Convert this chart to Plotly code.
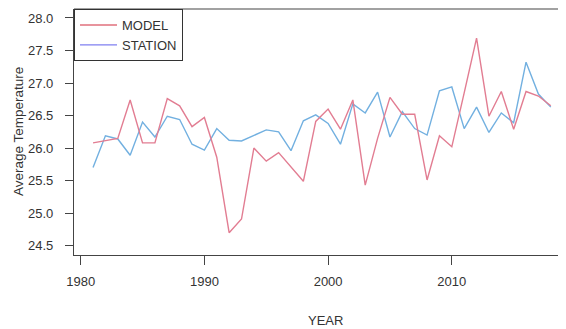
import plotly.graph_objects as go

years = list(range(1981, 2019))
model = [26.08, 26.12, 26.15, 26.74, 26.08, 26.08, 26.76, 26.65, 26.33, 26.47,
         25.86, 24.70, 24.91, 26.00, 25.80, 25.93, 25.71, 25.49, 26.41, 26.60,
         26.29, 26.74, 25.43, 26.15, 26.78, 26.52, 26.52, 25.51, 26.19, 26.02,
         26.85, 27.69, 26.49, 26.87, 26.29, 26.87, 26.80, 26.65]
station = [25.70, 26.19, 26.14, 25.89, 26.40, 26.17, 26.49, 26.44, 26.06, 25.97,
           26.30, 26.12, 26.11, 26.20, 26.28, 26.25, 25.96, 26.42, 26.51, 26.38,
           26.06, 26.68, 26.54, 26.86, 26.17, 26.56, 26.30, 26.20, 26.88, 26.94,
           26.30, 26.63, 26.24, 26.54, 26.39, 27.32, 26.83, 26.63]
x_ticks = [1980, 1990, 2000, 2010]
y_ticks = [24.5, 25.0, 25.5, 26.0, 26.5, 27.0, 27.5, 28.0]

RED = "#e27d92"
BLUE = "#72b0e0"
FONT = "Liberation Sans, Arial, sans-serif"
TXT = "#333333"

fig = go.Figure()
fig.add_trace(go.Scatter(x=years, y=station, mode="lines", name="STATION",
                         line=dict(color=BLUE, width=1.4), showlegend=False))
fig.add_trace(go.Scatter(x=years, y=model, mode="lines", name="MODEL",
                         line=dict(color=RED, width=1.4), showlegend=False))
# legend entries
fig.add_trace(go.Scatter(x=[None], y=[None], mode="lines", name="MODEL",
                         line=dict(color="#e0707c", width=1.4)))
fig.add_trace(go.Scatter(x=[None], y=[None], mode="lines", name="STATION",
                         line=dict(color="#7f7ff0", width=1.4)))

fig.update_layout(
    width=558, height=321,
    margin=dict(l=66, r=0, t=1, b=74, autoexpand=False),
    plot_bgcolor="white", paper_bgcolor="white",
    font=dict(family=FONT, size=13, color=TXT),
    showlegend=True,
    legend=dict(x=0, y=1, xanchor="left", yanchor="top",
                bordercolor="#333333", borderwidth=1, bgcolor="white",
                font=dict(size=13, color=TXT), itemwidth=37,
                tracegroupgap=0, traceorder="normal"),
    xaxis=dict(range=[1979.46, 2019.23], tickvals=x_ticks,
               ticktext=[str(v) for v in x_ticks],
               showgrid=False, zeroline=False, showline=True,
               linecolor="#444444", linewidth=1.2,
               ticks="outside", ticklen=9, tickwidth=1.2, tickcolor="#444444",
               ticklabelstandoff=5, automargin=False,
               tickfont=dict(size=13, color=TXT)),
    yaxis=dict(range=[24.357, 28.138], tickvals=y_ticks,
               ticktext=[f"{v:.1f}" for v in y_ticks],
               showgrid=False, zeroline=False, showline=True,
               linecolor="#444444", linewidth=1.2,
               ticks="outside", ticklen=8, tickwidth=1.2, tickcolor="#444444",
               ticklabelstandoff=9, automargin=False,
               tickfont=dict(size=13, color=TXT)),
    shapes=[dict(type="line", xref="paper", yref="paper", x0=0, x1=1, y0=1, y1=1,
                 line=dict(color="#444444", width=1.2))],
    annotations=[
        dict(text="Average Temperature", xref="paper", yref="paper",
             x=0, y=0.5, xanchor="center", yanchor="middle", xshift=-56,
             textangle=-90, showarrow=False,
             font=dict(size=13.5, color=TXT, family=FONT)),
        dict(text="YEAR", xref="paper", yref="paper",
             x=0, y=0, xanchor="center", yanchor="middle",
             xshift=251, yshift=-65,
             showarrow=False, font=dict(size=13, color=TXT, family=FONT)),
    ],
)

fig.write_html("out.html")
